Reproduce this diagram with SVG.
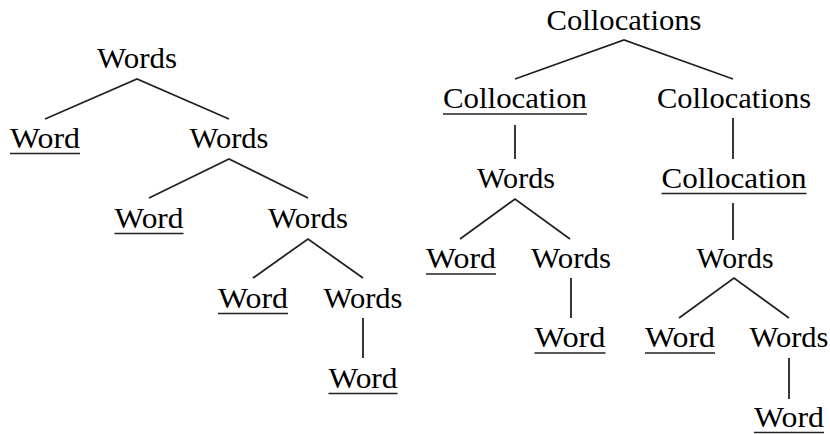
<svg xmlns="http://www.w3.org/2000/svg" width="830" height="434" viewBox="0 0 830 434">
  <style>
    .ul { stroke: #222; stroke-width: 1.6; }
    .edge { stroke: #222; stroke-width: 1.8; fill: none; }
  </style>
  <rect width="830" height="434" fill="#fff"/>

  <!-- Left tree: Words -->
  <g id="l-words1"><text x="97" y="68" font-size="29" font-family="Liberation Serif" textLength="80" lengthAdjust="spacingAndGlyphs">Words</text></g>
  <g id="l-word1"><text x="10" y="148" font-size="29" font-family="Liberation Serif" textLength="70" lengthAdjust="spacingAndGlyphs">Word</text><line class="ul" x1="10" y1="153.5" x2="80" y2="153.5"/></g>
  <g id="l-words2"><text x="189.5" y="148" font-size="29" font-family="Liberation Serif" textLength="79" lengthAdjust="spacingAndGlyphs">Words</text></g>
  <g id="l-word2"><text x="114.5" y="228" font-size="29" font-family="Liberation Serif" textLength="69" lengthAdjust="spacingAndGlyphs">Word</text><line class="ul" x1="114.5" y1="233.5" x2="183.5" y2="233.5"/></g>
  <g id="l-words3"><text x="268" y="228" font-size="29" font-family="Liberation Serif" textLength="80" lengthAdjust="spacingAndGlyphs">Words</text></g>
  <g id="l-word3"><text x="218" y="308" font-size="29" font-family="Liberation Serif" textLength="70" lengthAdjust="spacingAndGlyphs">Word</text><line class="ul" x1="218" y1="313.5" x2="288" y2="313.5"/></g>
  <g id="l-words4"><text x="323.5" y="308" font-size="29" font-family="Liberation Serif" textLength="79" lengthAdjust="spacingAndGlyphs">Words</text></g>
  <g id="l-word4"><text x="328.5" y="388" font-size="29" font-family="Liberation Serif" textLength="69" lengthAdjust="spacingAndGlyphs">Word</text><line class="ul" x1="328.5" y1="393.5" x2="397.5" y2="393.5"/></g>

  <!-- Right tree: Collocations -->
  <g id="r-collocations1"><text x="546.5" y="30" font-size="29" font-family="Liberation Serif" textLength="155" lengthAdjust="spacingAndGlyphs">Collocations</text></g>
  <g id="r-collocation1"><text x="443" y="108" font-size="29" font-family="Liberation Serif" textLength="144" lengthAdjust="spacingAndGlyphs">Collocation</text><line class="ul" x1="443" y1="114" x2="587" y2="114"/></g>
  <g id="r-collocations2"><text x="657" y="108" font-size="29" font-family="Liberation Serif" textLength="154" lengthAdjust="spacingAndGlyphs">Collocations</text></g>
  <g id="r-words1"><text x="477" y="188" font-size="29" font-family="Liberation Serif" textLength="78" lengthAdjust="spacingAndGlyphs">Words</text></g>
  <g id="r-collocation2"><text x="661.5" y="188" font-size="29" font-family="Liberation Serif" textLength="145" lengthAdjust="spacingAndGlyphs">Collocation</text><line class="ul" x1="661.5" y1="193.5" x2="806.5" y2="193.5"/></g>
  <g id="r-word1"><text x="426" y="268" font-size="29" font-family="Liberation Serif" textLength="70" lengthAdjust="spacingAndGlyphs">Word</text><line class="ul" x1="426" y1="274" x2="496" y2="274"/></g>
  <g id="r-words2"><text x="531" y="268" font-size="29" font-family="Liberation Serif" textLength="80" lengthAdjust="spacingAndGlyphs">Words</text></g>
  <g id="r-words3"><text x="696.5" y="268" font-size="29" font-family="Liberation Serif" textLength="77" lengthAdjust="spacingAndGlyphs">Words</text></g>
  <g id="r-word2"><text x="534.5" y="347" font-size="29" font-family="Liberation Serif" textLength="71" lengthAdjust="spacingAndGlyphs">Word</text><line class="ul" x1="534.5" y1="353" x2="605.5" y2="353"/></g>
  <g id="r-word3"><text x="645" y="347" font-size="29" font-family="Liberation Serif" textLength="70" lengthAdjust="spacingAndGlyphs">Word</text><line class="ul" x1="645" y1="353" x2="715" y2="353"/></g>
  <g id="r-words4"><text x="749.5" y="347" font-size="29" font-family="Liberation Serif" textLength="79" lengthAdjust="spacingAndGlyphs">Words</text></g>
  <g id="r-word4"><text x="754" y="427" font-size="29" font-family="Liberation Serif" textLength="70" lengthAdjust="spacingAndGlyphs">Word</text><line class="ul" x1="754" y1="432.5" x2="824" y2="432.5"/></g>

  <!-- Branches -->
  <g id="edges">
    <polyline class="edge" points="45,119 137,79 229,119"/>
    <polyline class="edge" points="149,198 229,159 308,198"/>
    <polyline class="edge" points="253,278 308,239 363,278"/>
    <line class="edge" x1="363" y1="318" x2="363" y2="358"/>

    <polyline class="edge" points="515,79 624,40 733,79"/>
    <line class="edge" x1="515" y1="125" x2="515" y2="159"/>
    <line class="edge" x1="733" y1="118" x2="733" y2="159"/>
    <polyline class="edge" points="460,239 515,199 570,239"/>
    <line class="edge" x1="733" y1="203" x2="733" y2="240"/>
    <line class="edge" x1="571" y1="278" x2="571" y2="318"/>
    <polyline class="edge" points="679,318 734,278 789,318"/>
    <line class="edge" x1="789" y1="358" x2="789" y2="399"/>
  </g>
</svg>
